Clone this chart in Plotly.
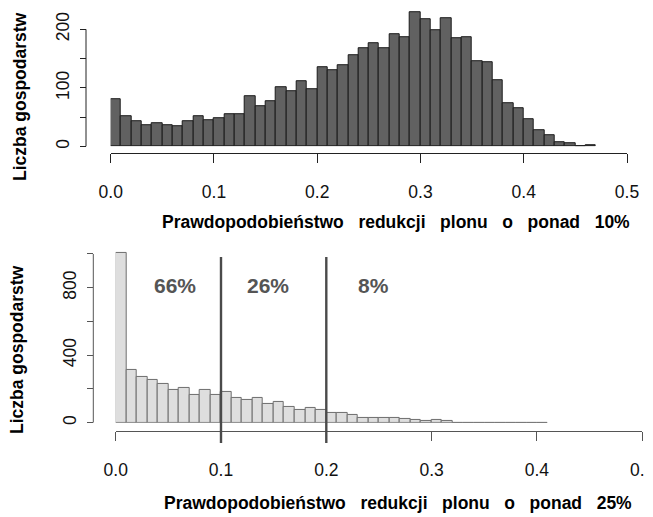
import plotly.graph_objects as go

W, H = 653, 517
OFF = 8  # page body margin of the browser

# ---------------- data ----------------
bin_width = 0.01
counts_10 = [80, 51, 43, 36, 40, 36, 35, 43, 52, 45,
             48, 55, 55, 85, 68, 78, 101, 95, 111, 97,
             135, 130, 138, 155, 168, 176, 168, 192, 186, 230,
             217, 199, 219, 185, 186, 145, 144, 113, 74, 66,
             46, 28, 19, 7, 6, 0, 2]
counts_25 = [1005, 314, 272, 254, 228, 195, 208, 165, 195, 165,
             183, 149, 135, 149, 113, 125, 92, 74, 87, 77,
             56, 60, 48, 28, 28, 28, 28, 20, 16, 8,
             16, 8, 0, 0, 0, 0, 0, 0, 0, 0, 0]
x_ticks = [0.0, 0.1, 0.2, 0.3, 0.4, 0.5]
x_ticklabels = ["0.0", "0.1", "0.2", "0.3", "0.4", "0.5"]
y_ticks_top = [0, 50, 100, 150, 200]
y_ticklabels_top = ["0", "", "100", "", "200"]
y_ticks_bot = [0, 200, 400, 600, 800, 1000]
y_ticklabels_bot = ["0", "", "400", "", "800", ""]
thresholds = [0.1, 0.2]
share_labels = ["66%", "26%", "8%"]
share_label_x = [0.056, 0.145, 0.245]
share_label_y = 816
SP = "\u00a0\u00a0\u00a0"
title_x_top = SP.join(["Prawdopodobieństwo", "redukcji", "plonu", "o", "ponad", "10%"])
title_x_bot = SP.join(["Prawdopodobieństwo", "redukcji", "plonu", "o", "ponad", "25%"])
title_y = "Liczba gospodarstw"

centers_10 = [bin_width * (i + 0.5) for i in range(len(counts_10))]
centers_25 = [bin_width * (i + 0.5) for i in range(len(counts_25))]

def px_x(p):
    return min(1.0, max(0.0, (p - OFF) / W))

def px_y(p):
    return min(1.0, max(0.0, 1 - (p - OFF) / H))

FONT = "Liberation Sans, Arial, Helvetica, sans-serif"

fig = go.Figure()
fig.add_trace(go.Bar(
    x=centers_10, y=counts_10, width=bin_width,
    marker=dict(color="#616161", line=dict(color="#1a1a1a", width=1)),
    xaxis="x", yaxis="y", showlegend=False, hoverinfo="x+y"))
fig.add_trace(go.Bar(
    x=centers_25, y=counts_25, width=bin_width,
    marker=dict(color="#dedede", line=dict(color="#6e6e6e", width=1)),
    xaxis="x2", yaxis="y2", showlegend=False, hoverinfo="x+y"))

tickfont = dict(family=FONT, size=17.5, color="#111")

# panel geometry (page pixels)
top_x0, top_x1 = 110.7, 627.0
top_y0 = 146.5
top_xaxis_line = 152.7
top_yaxis_line = 86.0
top_top_val = 236
top_scale = (146.5 - 29.3) / 200

bot_x0, bot_x1 = 115.7, 642.2
bot_y0 = 422.7
bot_scale = (422.7 - 254.0) / 1000
bot_top_val = 1030
bot_xaxis_line = 431.0
bot_yaxis_line = 93.3

common_x = dict(showgrid=False, zeroline=False, showline=True, linewidth=1,
                ticks="outside", ticklen=9, tickwidth=1, tickfont=tickfont,
                tickvals=x_ticks, ticktext=x_ticklabels, range=[0, 0.5],
                anchor="free", ticklabelstandoff=14, automargin=False)
common_y = dict(showgrid=False, zeroline=False, showline=False,
                ticks="outside", ticklen=6, tickwidth=1, tickfont=tickfont,
                tickangle=-90, anchor="free", ticklabelstandoff=4, automargin=False)

fig.update_layout(
    width=W, height=H, autosize=False,
    margin=dict(l=0, r=0, t=0, b=0, pad=0, autoexpand=False),
    paper_bgcolor="white", plot_bgcolor="white", bargap=0,
    font=dict(family=FONT, color="#111"),
    xaxis=dict(common_x, domain=[px_x(top_x0), px_x(top_x1)],
               position=px_y(top_xaxis_line), linecolor="#222", tickcolor="#222"),
    yaxis=dict(common_y, domain=[px_y(top_y0), px_y(top_y0 - top_top_val * top_scale)],
               range=[0, top_top_val],
               position=px_x(top_yaxis_line), tickvals=y_ticks_top,
               ticktext=y_ticklabels_top, tickcolor="#222"),
    xaxis2=dict(common_x, domain=[px_x(bot_x0), px_x(bot_x1)],
                position=px_y(bot_xaxis_line), linecolor="#555", tickcolor="#555"),
    yaxis2=dict(common_y, domain=[px_y(bot_y0), px_y(bot_y0 - bot_top_val * bot_scale)],
                range=[0, bot_top_val], position=px_x(bot_yaxis_line),
                tickvals=y_ticks_bot, ticktext=y_ticklabels_bot, tickcolor="#555"),
)

shapes = []
shapes.append(dict(type="line", xref="paper", yref="y",
                   x0=px_x(top_yaxis_line), x1=px_x(top_yaxis_line),
                   y0=y_ticks_top[0], y1=y_ticks_top[-1],
                   line=dict(color="#222", width=1)))
shapes.append(dict(type="line", xref="paper", yref="y2",
                   x0=px_x(bot_yaxis_line), x1=px_x(bot_yaxis_line),
                   y0=y_ticks_bot[0], y1=y_ticks_bot[-1],
                   line=dict(color="#555", width=1)))
for t in thresholds:
    shapes.append(dict(type="line", xref="x2", yref="paper",
                       x0=t, x1=t, y0=px_y(443), y1=px_y(257),
                       line=dict(color="#4a4a4a", width=2.4)))
fig.update_layout(shapes=shapes)

ann = []
for lab, xv in zip(share_labels, share_label_x):
    ann.append(dict(text="<b>%s</b>" % lab, x=xv, y=share_label_y, xref="x2", yref="y2",
                    showarrow=False, xanchor="center", yanchor="middle",
                    font=dict(family=FONT, size=21, color="#555")))
ann.append(dict(text="<b>%s</b>" % title_x_top, x=px_x(396), y=px_y(222),
                xref="paper", yref="paper", showarrow=False,
                xanchor="center", yanchor="middle",
                font=dict(family=FONT, size=17.5, color="#000")))
ann.append(dict(text="<b>%s</b>" % title_x_bot, x=px_x(398), y=px_y(503),
                xref="paper", yref="paper", showarrow=False,
                xanchor="center", yanchor="middle",
                font=dict(family=FONT, size=17.5, color="#000")))
ann.append(dict(text="<b>%s</b>" % title_y, x=px_x(20), y=px_y(97),
                xref="paper", yref="paper", showarrow=False, textangle=-90,
                xanchor="center", yanchor="middle",
                font=dict(family=FONT, size=17.5, color="#000")))
ann.append(dict(text="<b>%s</b>" % title_y, x=px_x(17), y=px_y(350),
                xref="paper", yref="paper", showarrow=False, textangle=-90,
                xanchor="center", yanchor="middle",
                font=dict(family=FONT, size=17.5, color="#000")))
fig.update_layout(annotations=ann)

fig.write_html("out.html")
